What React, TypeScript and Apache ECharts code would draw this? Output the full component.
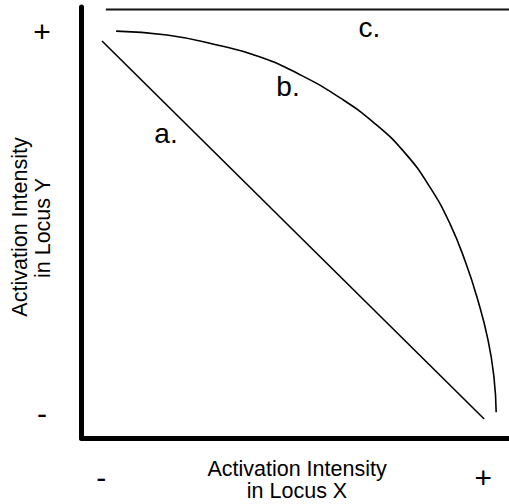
import React, { useEffect, useRef } from "react";
import * as echarts from "echarts";

// Line a: straight decline
const lineAX = [4.8, 94.2];
const lineAY = [92.1, 4.4];
// Curve b: concave trade-off
const curveBX = [8.1, 20.0, 31.2, 41.8, 51.1, 60.5, 68.7, 75.7, 81.5, 86.2, 89.9, 92.5, 95.1, 96.5, 97.0];
const curveBY = [94.4, 93.5, 91.3, 88.4, 84.3, 78.9, 72.9, 66.1, 58.2, 49.7, 40.6, 32.7, 22.7, 13.9, 6.0];
// Line c: flat
const lineCX = [5.7, 100];
const lineCY = [99.4, 99.4];

const xTickValues = [4.6, 94];
const yTickValues = [5.6, 94.2];
const tickLabels = ["-", "+"];

const xTitle = ["Activation Intensity", "in Locus X"];
const yTitle = ["Activation Intensity", "in Locus Y"];
const curveNames = ["a.", "b.", "c."];

const FONT = "'Liberation Sans', Arial, Helvetica, sans-serif";

export default function App() {
  const ref = useRef<HTMLDivElement>(null);
  useEffect(() => {
    if (!ref.current) return;
    const chart = echarts.init(ref.current, null, { renderer: "svg" });
    const pair = (xs: number[], ys: number[]) => xs.map((x, i) => [x, ys[i]]);
    const lineStyle = { color: "#000", width: 1.6 };
    const tickFmt = (v: number) => (v < 50 ? tickLabels[0] : tickLabels[1]);
    const labelStyle = (text: string) => ({
      text,
      font: `28px ${FONT}`,
      fill: "#000",
      align: "center",
      verticalAlign: "middle",
    });
    const titleStyle = (text: string) => ({
      text,
      font: `21.5px ${FONT}`,
      fill: "#000",
      align: "center",
      verticalAlign: "middle",
    });
    chart.setOption({
      animation: false,
      backgroundColor: "#fff",
      grid: { left: 81.5, right: 0, top: 7, bottom: 66 },
      xAxis: {
        type: "value",
        min: 0,
        max: 100,
        splitLine: { show: false },
        axisTick: { show: false },
        axisLine: { show: true, lineStyle: { color: "#000", width: 5 } },
        axisLabel: {
          customValues: xTickValues,
          formatter: tickFmt,
          color: "#000",
          fontSize: 30,
          fontFamily: FONT,
          verticalAlign: "middle",
          margin: 39,
        },
      },
      yAxis: {
        type: "value",
        min: 0,
        max: 100,
        splitLine: { show: false },
        axisTick: { show: false },
        axisLine: { show: true, lineStyle: { color: "#000", width: 5 } },
        axisLabel: {
          customValues: yTickValues,
          formatter: tickFmt,
          color: "#000",
          fontSize: 30,
          fontFamily: FONT,
          align: "center",
          verticalAlign: "middle",
          margin: 39.5,
        },
      },
      series: [
        {
          name: curveNames[0],
          type: "line",
          data: pair(lineAX, lineAY),
          symbol: "none",
          lineStyle,
        },
        {
          name: curveNames[1],
          type: "line",
          data: pair(curveBX, curveBY),
          symbol: "none",
          smooth: 0.5,
          lineStyle,
        },
        {
          name: curveNames[2],
          type: "line",
          data: pair(lineCX, lineCY),
          symbol: "none",
          lineStyle: { color: "#111", width: 2 },
        },
      ],
      graphic: [
        { type: "text", x: 166, y: 133, style: labelStyle(curveNames[0]) },
        { type: "text", x: 288, y: 86, style: labelStyle(curveNames[1]) },
        { type: "text", x: 369.5, y: 27, style: labelStyle(curveNames[2]) },
        { type: "text", x: 297, y: 468.5, style: titleStyle(xTitle[0]) },
        { type: "text", x: 297, y: 490.5, style: titleStyle(xTitle[1]) },
        { type: "text", x: 19.5, y: 227, rotation: Math.PI / 2, style: titleStyle(yTitle[0]) },
        { type: "text", x: 42.5, y: 228, rotation: Math.PI / 2, style: titleStyle(yTitle[1]) },
      ],
    });
    return () => chart.dispose();
  }, []);
  return (
    <div
      ref={ref}
      style={{ position: "fixed", left: 0, top: 0, width: 509, height: 504, background: "#fff" }}
    />
  );
}
